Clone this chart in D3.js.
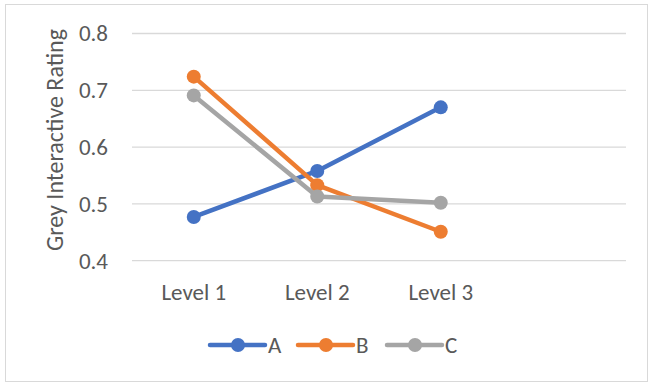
<!DOCTYPE html>
<html>
<head>
<meta charset="utf-8">
<script src="https://cdn.jsdelivr.net/npm/d3@7"></script>
<style>
  html, body { margin: 0; padding: 0; background: #fff; }
  svg text { font-family: Calibri, Carlito, "Open Sans", sans-serif; fill: #595959; }
</style>
</head>
<body>
<svg id="chart" width="648" height="383"></svg>
<script>
// Category axis (the fourth slot is left empty)
const categories = ["Level 1", "Level 2", "Level 3", ""];
const seriesNames = ["A", "B", "C"];
const valuesA = [0.477, 0.558, 0.670];
const valuesB = [0.724, 0.533, 0.451];
const valuesC = [0.691, 0.513, 0.502];
const yTicks = [0.4, 0.5, 0.6, 0.7, 0.8];
const colors = ["#4472C4", "#ED7D31", "#A5A5A5"];

const series = [valuesA, valuesB, valuesC].map((vals, i) => ({
  name: seriesNames[i],
  color: colors[i],
  points: vals.map((v, j) => ({ cat: categories[j], v }))
}));

const FONT = 'Calibri, Carlito, "Open Sans", sans-serif';
const svg = d3.select("#chart");

// Chart frame
svg.append("rect")
  .attr("x", 5.5).attr("y", 4.5)
  .attr("width", 642).attr("height", 377)
  .attr("fill", "#fff")
  .attr("stroke", "#d9d9d9").attr("stroke-width", 1);

const plot = { left: 132, right: 626, top: 33.5, bottom: 260.7 };

const x = d3.scaleBand().domain(categories)
  .range([plot.left, plot.right]).padding(0);
const y = d3.scaleLinear().domain([0.4, 0.8])
  .range([plot.bottom, plot.top]);

const cx = c => x(c) + x.bandwidth() / 2;

// Gridlines
svg.append("g")
  .selectAll("line").data(yTicks).join("line")
  .attr("x1", plot.left).attr("x2", plot.right)
  .attr("y1", d => y(d)).attr("y2", d => y(d))
  .attr("stroke", "#d9d9d9").attr("stroke-width", 1.3);

// Y axis labels
const yAxis = svg.append("g")
  .attr("transform", `translate(${plot.left - 24},0)`)
  .call(d3.axisLeft(y).tickValues(yTicks).tickFormat(d3.format(".1f")).tickSize(0).tickPadding(0));
yAxis.select(".domain").remove();
yAxis.selectAll("text")
  .attr("font-size", 23)
  .attr("fill", "#595959")
  .style("font-family", FONT);

// X axis labels
const xAxis = svg.append("g")
  .attr("transform", `translate(0,300)`)
  .call(d3.axisBottom(x).tickSize(0).tickPadding(0));
xAxis.select(".domain").remove();
xAxis.selectAll("text")
  .attr("y", 0).attr("dy", 0)
  .attr("font-size", 23)
  .attr("fill", "#595959")
  .style("font-family", FONT);

// Y axis title
svg.append("text")
  .attr("transform", `translate(63,${(22 + 258) / 2}) rotate(-90)`)
  .attr("text-anchor", "middle")
  .attr("font-size", 24)
  .text("Grey Interactive Rating");

// Series lines and markers
const line = d3.line().x(d => cx(d.cat)).y(d => y(d.v));
const g = svg.append("g");
series.forEach(s => {
  g.append("path")
    .datum(s.points)
    .attr("d", line)
    .attr("fill", "none")
    .attr("stroke", s.color)
    .attr("stroke-width", 4.5)
    .attr("stroke-linejoin", "round")
    .attr("stroke-linecap", "round");
  g.selectAll(null).data(s.points).join("circle")
    .attr("cx", d => cx(d.cat))
    .attr("cy", d => y(d.v))
    .attr("r", 7)
    .attr("fill", s.color);
});

// Legend
const legendY = 345;
const legendX = d3.scaleOrdinal().domain(seriesNames).range([210, 298, 387]);
const leg = svg.append("g");
series.forEach(s => {
  const x0 = legendX(s.name);
  leg.append("line")
    .attr("x1", x0).attr("x2", x0 + 55)
    .attr("y1", legendY).attr("y2", legendY)
    .attr("stroke", s.color).attr("stroke-width", 4.5)
    .attr("stroke-linecap", "round");
  leg.append("circle")
    .attr("cx", x0 + 28).attr("cy", legendY).attr("r", 7)
    .attr("fill", s.color);
  leg.append("text")
    .attr("x", x0 + 58).attr("y", legendY)
    .attr("dy", "0.35em")
    .attr("font-size", 23)
    .text(s.name);
});
</script>
</body>
</html>
